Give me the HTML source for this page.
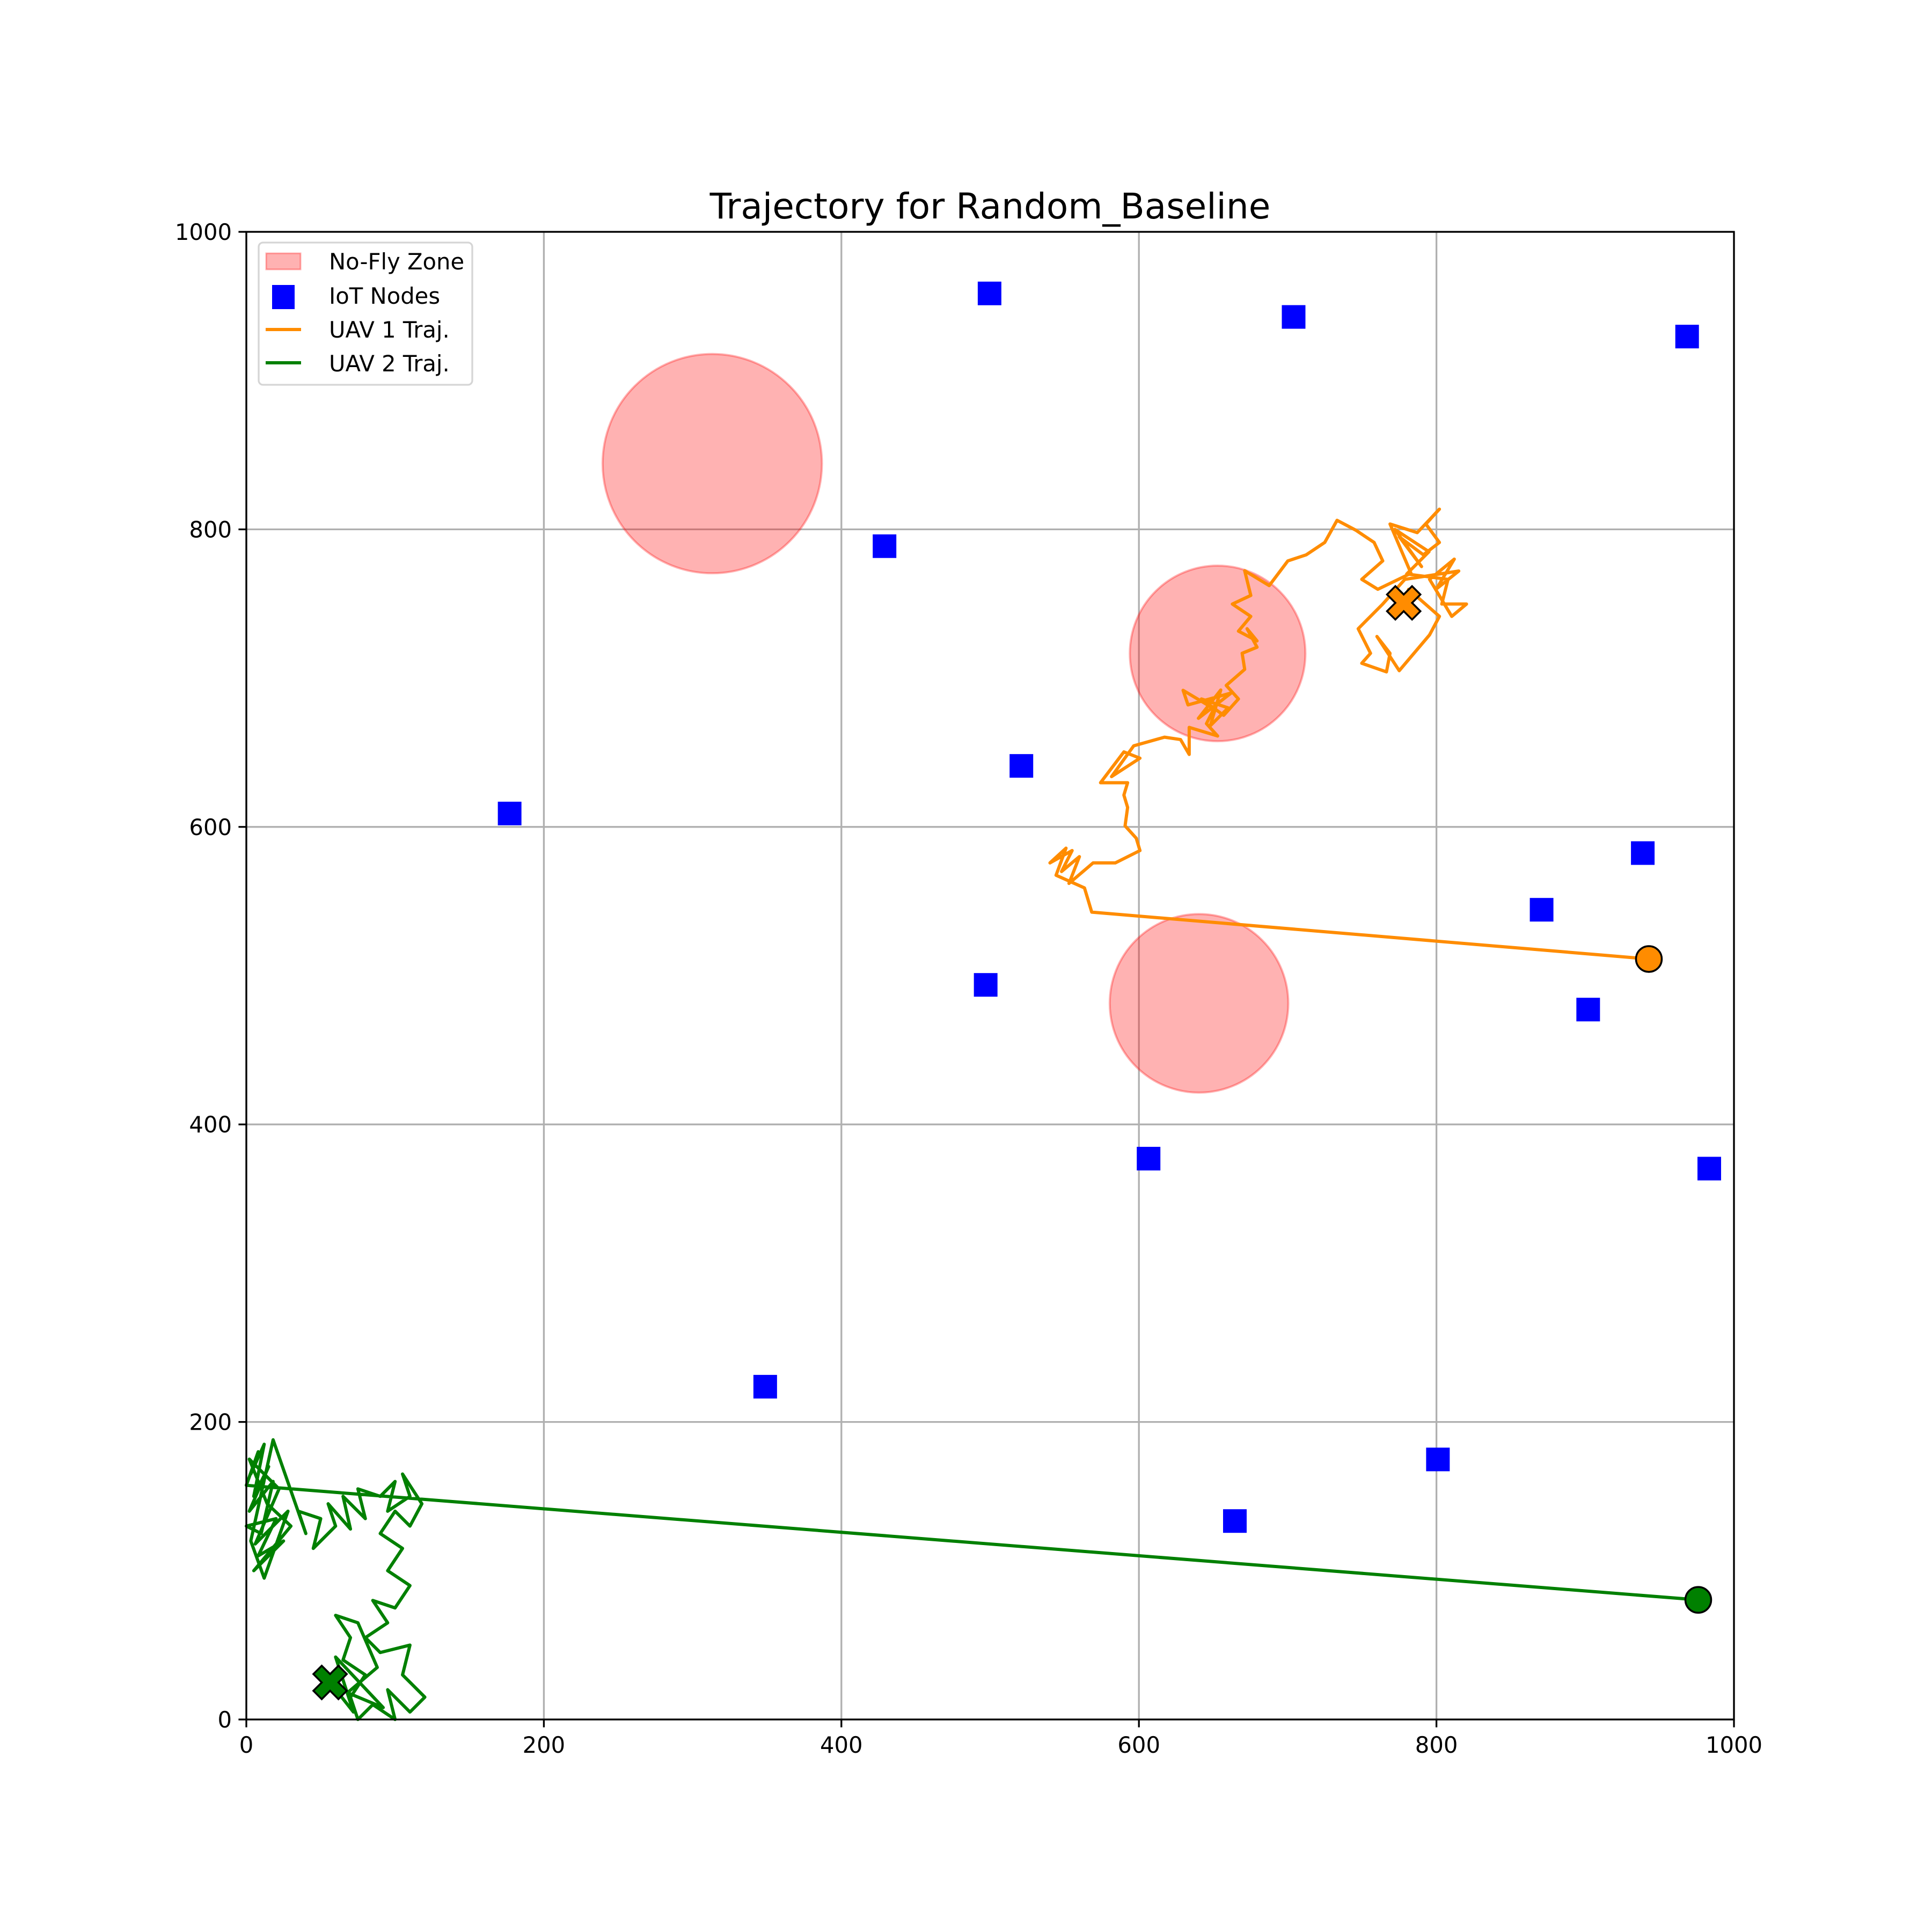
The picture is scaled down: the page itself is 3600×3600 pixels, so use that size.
<!DOCTYPE html>
<html><head><meta charset="utf-8"><style>
html,body{margin:0;padding:0;background:#fff;}
svg{display:block;font-family:"DejaVu Sans","Liberation Sans",sans-serif;}
</style></head><body>
<svg id="chart" width="3600" height="3600" viewBox="0 0 3600 3600" xmlns="http://www.w3.org/2000/svg">
<rect width="3600" height="3600" fill="#fff"/>
<text x="1845" y="407" font-size="66" text-anchor="middle">Trajectory for Random_Baseline</text>
<g id="grid"></g><g id="zones"></g><g id="traj"></g><g id="nodes"></g><g id="markers"></g><g id="axes"></g>
<g id="legend">
<rect x="482" y="452" width="398" height="265" rx="8" fill="#fff" fill-opacity="0.8" stroke="#d5d5d5" stroke-width="3.3"/>
<rect x="496" y="472" width="64" height="30" fill="rgba(255,0,0,0.3)" stroke="rgba(255,0,0,0.3)" stroke-width="3"/>
<text x="613" y="502" font-size="41.7">No-Fly Zone</text>
<rect x="507" y="531" width="42" height="45" fill="#0000ff"/>
<text x="613" y="566" font-size="41.7">IoT Nodes</text>
<line x1="495" y1="614" x2="561" y2="614" stroke="#ff8c00" stroke-width="6"/>
<text x="613" y="629" font-size="41.7">UAV 1 Traj.</text>
<line x1="495" y1="676" x2="561" y2="676" stroke="#008000" stroke-width="6"/>
<text x="613" y="692" font-size="41.7">UAV 2 Traj.</text>
</g>
</svg>
<script>
const ticks = [0,200,400,600,800,1000];
const tickLabels = ["0","200","400","600","800","1000"];
const nodeX = [499.6,704,968.5,429,177,521,938.7,870.7,497,902,606.5,983.4,348.8,801,664.5];
const nodeY = [958.6,942.8,929.6,788.7,609,641,582.4,544.3,493.8,477.2,377,370.3,223.7,174.8,133.4];
const zoneX = [313.2,652.9,640.4];
const zoneY = [844.2,716.6,481.4];
const zoneR = [73.7,59,60];
const uav1X = [942.8,568.3,563.4,544.3,551,540.2,555.1,548,560,553,569.2,584.1,600.7,598.2,590.7,592.4,589.9,592.4,574.2,589.9,600.7,581.6,596.5,617.2,628,633.8,633.8,652.9,645.4,650.4,629.7,633,662,640,655,648,660,642,657,666.9,658.7,671.1,669.4,679.4,672.7,679.4,666.9,675.2,662.8,675.2,671.1,687.6,700.1,712.5,724.9,733.2,745.7,758.1,763.9,749.8,760.6,782.9,768.8,787.1,802,792.9,802,791.2,775,790,772,795,780,807.8,803.6,820.2,810.3,795.4,812,800,815,778.8,763.9,747.4,755.7,749.8,766.4,768.8,760,775,795.4,802,781.3,778];
const uav1Y = [511.2,542.7,559,567.5,585.7,575.8,584.1,570,580,562,575.8,575.8,584.1,592.4,600.7,613.1,621.4,629.7,629.7,650.4,646.2,633.8,654.5,660.3,658.7,648.7,666.9,661.1,669.4,679.4,691.8,682,690,673,692,668,680,686,675,686,695.1,705.9,716.7,720.8,733.2,725,731.6,741.5,749.8,755.6,772.2,762.2,778.8,782.9,791.2,806.1,799.5,791.2,778.8,766.4,759.7,770.5,803.6,797.8,813.6,803.6,791.2,782.9,795,775,800,785,770,766.4,749.8,749.8,741.5,766.4,780,760,772,766.4,749.8,733.2,716.7,710,704.2,716.7,728,705,729.1,741.5,759.7,750.6];
const uav2X = [976,0,8,3,12,5,15,2,18,10,0,20,8,25,5,30,14,2,22,6,28,12,3,18,40,35,50,45,60,55,70,65,80,75,90,100,95,110,105,118,110,100,90,105,95,110,100,85,95,80,90,110,105,120,110,95,100,85,75,70,80,65,70,60,75,88,68,92,60,72,56.3];
const uav2Y = [80.4,157.4,180,165,185,150,170,140,160,125,130,135,110,120,100,130,145,175,155,118,140,95,120,188,125,140,135,115,130,145,128,150,135,155,150,160,140,150,165,145,130,140,125,115,100,90,75,80,65,55,45,50,30,15,5,20,0,10,0,15,30,40,55,70,65,35,18,8,42,5,24.9];

const NS='http://www.w3.org/2000/svg';
const L=459,R=3231,T=432,B=3204,K=(R-L)/1000;
const X=v=>L+v*K, Y=v=>B-v*K;
function mk(tag,attrs,parent){const e=document.createElementNS(NS,tag);for(const k in attrs)e.setAttribute(k,attrs[k]);parent.appendChild(e);return e;}
const grid=document.getElementById('grid'),axes=document.getElementById('axes');
ticks.forEach((t,i)=>{
  let g=mk('line',{x1:X(t),x2:X(t),y1:T,y2:B,stroke:'#b0b0b0','stroke-width':3.3},grid);
  
  
  g=mk('line',{x1:L,x2:R,y1:Y(t),y2:Y(t),stroke:'#b0b0b0','stroke-width':3.3},grid);
  
  
  mk('line',{x1:X(t),x2:X(t),y1:B,y2:B+14.6,stroke:'#000','stroke-width':3.3},axes);
  mk('line',{x1:L-14.6,x2:L,y1:Y(t),y2:Y(t),stroke:'#000','stroke-width':3.3},axes);
  let tx=mk('text',{x:X(t),y:B+62,'font-size':41.7,'text-anchor':'middle'},axes);tx.textContent=tickLabels[i];
  
  
  let ty=mk('text',{x:L-27,y:Y(t)+15,'font-size':41.7,'text-anchor':'end'},axes);ty.textContent=tickLabels[i];
  
  
});
const frame=mk('rect',{x:L,y:T,width:R-L,height:B-T,fill:'none',stroke:'#000','stroke-width':3.3},axes);


const zones=document.getElementById('zones');
zoneX.forEach((x,i)=>{
  const c=mk('circle',{cx:X(x),cy:Y(zoneY[i]),r:zoneR[i]*K,fill:'rgba(255,0,0,0.3)',stroke:'rgba(255,0,0,0.3)','stroke-width':4},zones);
  
  
});
const traj=document.getElementById('traj');
function line(xs,ys,col,name){
  const p=mk('polyline',{points:xs.map((x,i)=>X(x)+','+Y(ys[i])).join(' '),fill:'none',stroke:col,'stroke-width':6,'stroke-linejoin':'round','stroke-linecap':'round'},traj);
  
  
}
line(uav1X,uav1Y,'#ff8c00','uav1-trajectory');
line(uav2X,uav2Y,'#008000','uav2-trajectory');
const nodes=document.getElementById('nodes');
nodeX.forEach((x,i)=>{
  const s=mk('rect',{x:X(x)-22,y:Y(nodeY[i])-22,width:44,height:44,fill:'#0000ff'},nodes);
  
  
});
const markers=document.getElementById('markers');
function start(x,y,col,name){
  const c=mk('circle',{cx:X(x),cy:Y(y),r:24,fill:col,stroke:'#000','stroke-width':3.5},markers);
  
  
}
function endX(x,y,col,name){
  const cx=X(x),cy=Y(y),a=11,b=33;
  const pts=[[-a,-b],[a,-b],[a,-a],[b,-a],[b,a],[a,a],[a,b],[-a,b],[-a,a],[-b,a],[-b,-a],[-a,-a]];
  const p=mk('polygon',{points:pts.map(q=>q.join(',')).join(' '),fill:col,stroke:'#000','stroke-width':3.5,transform:`translate(${cx},${cy}) rotate(45)`},markers);
  
  
}
start(uav1X[0],uav1Y[0],'#ff8c00','uav1-start');
start(uav2X[0],uav2Y[0],'#008000','uav2-start');
endX(uav1X[uav1X.length-1],uav1Y[uav1Y.length-1],'#ff8c00','uav1-end');
endX(uav2X[uav2X.length-1],uav2Y[uav2Y.length-1],'#008000','uav2-end');
</script>
</body></html>
